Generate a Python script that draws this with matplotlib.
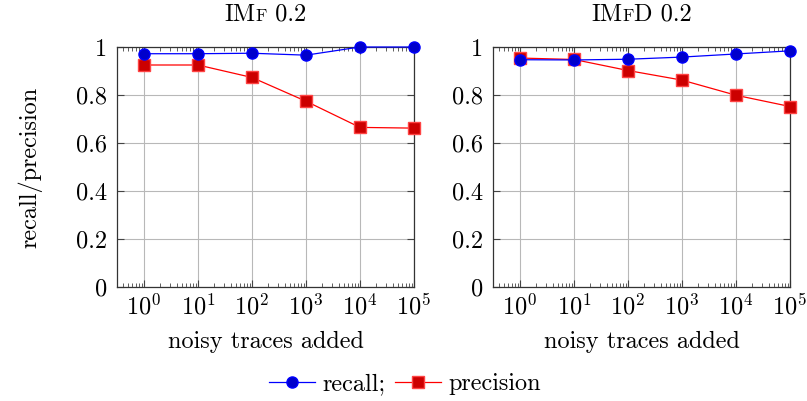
import matplotlib
matplotlib.use("Agg")
import matplotlib.pyplot as plt
from matplotlib.ticker import LogLocator, NullFormatter, FixedLocator
from matplotlib.offsetbox import TextArea, HPacker, AnchoredOffsetbox

plt.rcParams["font.family"] = ["cmr10", "DejaVu Serif"]
plt.rcParams["mathtext.fontset"] = "cm"
plt.rcParams["axes.formatter.use_mathtext"] = True

noise = [1, 10, 100, 1000, 10000, 100000]
# titles in small caps: list of (text, is_small_cap)
titles = [
    [("IM", False), ("F", True), (" 0.2", False)],
    [("IM", False), ("F", True), ("D 0.2", False)],
]
recall = [
    [0.972, 0.972, 0.974, 0.966, 1.0, 1.0],
    [0.947, 0.946, 0.949, 0.958, 0.971, 0.984],
]
precision = [
    [0.925, 0.925, 0.873, 0.774, 0.665, 0.662],
    [0.954, 0.948, 0.902, 0.862, 0.799, 0.752],
]
y_ticks = [0, 0.2, 0.4, 0.6, 0.8, 1]
y_labels = ["0", "0.2", "0.4", "0.6", "0.8", "1"]

fs = 17.5
fig = plt.figure(figsize=(8.07, 4.01), dpi=100)
lefts = [117 / 807, 493 / 807]
axes = []
for k in range(2):
    ax = fig.add_axes([lefts[k], 1 - 287 / 401, 297 / 807, 240 / 401])
    axes.append(ax)
    ax.set_xscale("log")
    ax.set_xlim(10 ** -0.5, 10 ** 5)
    ax.set_ylim(0, 1)
    ax.xaxis.set_major_locator(FixedLocator(noise))
    ax.xaxis.set_minor_locator(LogLocator(base=10, subs=range(2, 10), numticks=20))
    ax.xaxis.set_minor_formatter(NullFormatter())
    ax.set_yticks(y_ticks)
    ax.set_yticklabels(y_labels)
    ax.grid(True, which="major", color="#b8b8b8", linewidth=0.8)
    ax.set_axisbelow(True)
    ax.tick_params(which="both", direction="in", top=True, right=True,
                   labelsize=fs, color="#444444")
    ax.tick_params(which="major", length=5, width=0.8)
    ax.tick_params(which="minor", length=3, width=0.6)
    ax.tick_params(axis="x", pad=5)
    ax.tick_params(axis="y", pad=7)
    for s in ax.spines.values():
        s.set_linewidth(0.9)
        s.set_color("#333333")

    l1, = ax.plot(noise, recall[k], color="blue", linewidth=0.9, marker="o",
                  markersize=8, markerfacecolor="#0000cc", markeredgecolor="blue",
                  clip_on=False, zorder=4, label="recall;")
    l2, = ax.plot(noise, precision[k], color="red", linewidth=0.9, marker="s",
                  markersize=8, markerfacecolor="#cc0000", markeredgecolor="#ff4444",
                  clip_on=False, zorder=3, label="precision")

    parts = [TextArea(t, textprops=dict(fontsize=fs * 0.72 if sc else fs))
             for t, sc in titles[k]]
    pack = HPacker(children=parts, align="baseline", pad=0, sep=0)
    box = AnchoredOffsetbox(loc="center", child=pack, frameon=False, pad=0,
                            bbox_to_anchor=(0.5, 1.135), bbox_transform=ax.transAxes,
                            borderpad=0)
    ax.add_artist(box)
    ax.set_xlabel("noisy traces added", fontsize=fs, labelpad=8)

axes[0].set_ylabel("recall/precision", fontsize=fs, labelpad=24)

fig.legend(handles=[l1, l2], loc="center", bbox_to_anchor=(405 / 807, 1 - 384 / 401),
           ncol=2, frameon=False, fontsize=fs, handlelength=1.9,
           handletextpad=0.3, columnspacing=0.4)

fig.savefig("out.png", dpi=100)
